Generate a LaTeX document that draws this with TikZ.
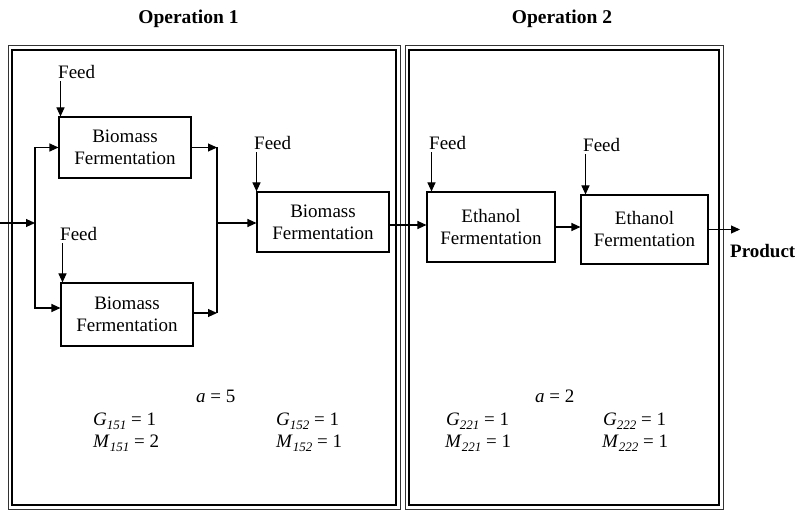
\documentclass[tikz,border=0pt]{standalone}
\usepackage{fontspec}
\setmainfont{Liberation Serif}
\usetikzlibrary{arrows.meta}
\newcommand\idx[1]{\raisebox{-4pt}{\fontsize{13}{13}\selectfont\itshape #1}}
\tikzset{
  outerline/.style={draw=black!80, line width=1pt},
  innerline/.style={draw=black, line width=1.6pt},
  procbox/.style={draw, line width=1.1pt, align=center, inner sep=0pt},
  arr/.style={line width=1.1pt, -{Triangle[length=9pt,width=8pt]}},
  conn/.style={line width=1.1pt},
  lbl/.style={inner sep=0pt, anchor=base west},
  ttl/.style={inner sep=0pt, anchor=base, font=\fontsize{19.5}{22}\selectfont\bfseries},
}
\begin{document}
\begin{tikzpicture}[x=1pt, y=-1pt, font=\fontsize{19}{22}\selectfont]
\useasboundingbox (0,0) rectangle (798,510);
% operation frames
\draw[outerline] (8,46) rectangle (400,509);
\draw[innerline] (12,50) rectangle (396,505);
\draw[outerline] (405,46) rectangle (723,509);
\draw[innerline] (409,50) rectangle (719,505);
% titles
\node[ttl] (t1) at (188.5,24) {Operation 1};
\node[ttl] (t2) at (562,24) {Operation 2};
% process boxes
\node[procbox, minimum width=132pt, minimum height=61pt] (b1) at (125,147.5) {Biomass\\Fermentation};
\node[procbox, minimum width=132pt, minimum height=63pt] (b2) at (127,314.5) {Biomass\\Fermentation};
\node[procbox, minimum width=132pt, minimum height=60pt] (b3) at (323,222) {Biomass\\Fermentation};
\node[procbox, minimum width=128pt, minimum height=70pt] (b4) at (491,227) {Ethanol\\Fermentation};
\node[procbox, minimum width=127pt, minimum height=69pt] (b5) at (644.5,229.5) {Ethanol\\Fermentation};
% feeds
\node[lbl] (f1) at (58,79) {Feed};
\node[lbl] (f2) at (60,241) {Feed};
\node[lbl] (f3) at (254,150) {Feed};
\node[lbl] (f4) at (429,150) {Feed};
\node[lbl] (f5) at (583,152) {Feed};
\foreach \f/\b in {f1/b1,f2/b2,f3/b3,f4/b4,f5/b5}{
  \draw[arr] ([xshift=2.5pt,yshift=-2pt]\f.south west) -- ([xshift=2.5pt]\f.south west |- \b.north);
}
% input split
\coordinate (src) at (0,223);
\coordinate (j1) at (35,223);
\draw[arr] (src) -- (j1);
\draw[arr] (j1) |- (b1.west);
\draw[arr] (j1) |- ([yshift=6.5pt]b2.west);
% merge
\coordinate (j2) at (217,223);
\draw[arr] (b1.east) -- (b1.east -| j2);
\draw[arr] ([yshift=1.5pt]b2.east) -- ([yshift=1.5pt]b2.east -| j2);
\draw[conn] (b1.east -| j2) -- ([yshift=1.5pt]b2.east -| j2);
\draw[arr] (j2) -- (j2 -| b3.west);
% series
\draw[arr] ([yshift=-3pt]b3.east) -- ([yshift=-3pt]b3.east -| b4.west);
\draw[arr] (b4.east) -- (b4.east -| b5.west);
\coordinate (out) at (740,229.5);
\draw[arr] (b5.east) -- (out);
\node[lbl, font=\fontsize{19}{22}\selectfont\bfseries] (prod) at (730,258) {Product};
% parameters
\node[lbl] (a1) at (196,403) {\textit{a} = 5};
\node[lbl] (g1) at (93,426) {\textit{G}\idx{151} = 1};
\node[lbl] (m1) at (93,447) {\textit{M}\idx{151} = 2};
\node[lbl] (g2) at (276,426) {\textit{G}\idx{152} = 1};
\node[lbl] (m2) at (276,447) {\textit{M}\idx{152} = 1};
\node[lbl] (a2) at (535,403) {\textit{a} = 2};
\node[lbl] (g3) at (446,426) {\textit{G}\idx{221} = 1};
\node[lbl] (m3) at (445,447) {\textit{M}\idx{221} = 1};
\node[lbl] (g4) at (603,426) {\textit{G}\idx{222} = 1};
\node[lbl] (m4) at (602,447) {\textit{M}\idx{222} = 1};
\end{tikzpicture}
\end{document}
